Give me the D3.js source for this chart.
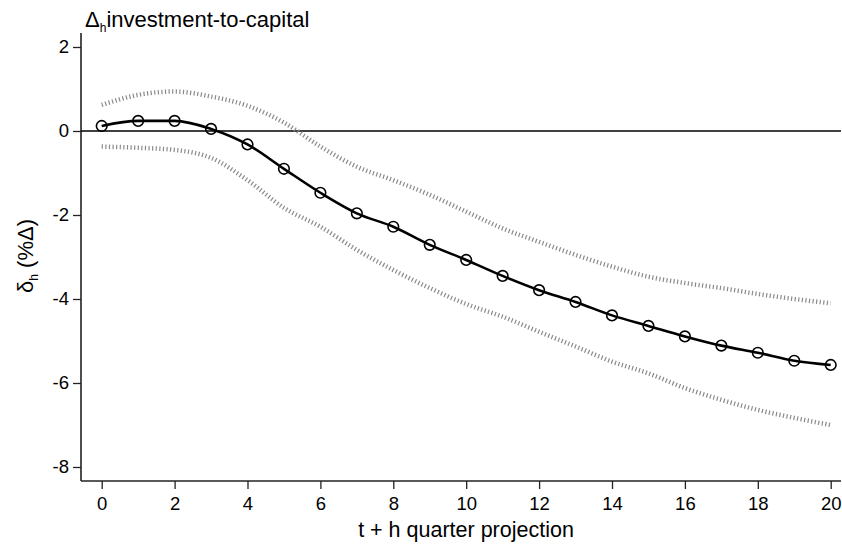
<!DOCTYPE html>
<html>
<head>
<meta charset="utf-8">
<script src="https://cdn.jsdelivr.net/npm/d3@7"></script>
<style>
    body { margin: 0; padding: 0; background: #fff; }
    svg { display: block; font-family: "Liberation Sans", Arial, sans-serif; }
</style>
</head>
<body>
<div id="main"></div>
<script>
// horizon h (quarters)
const horizons = d3.range(0, 21);
// point estimate of delta_h
const estimate = [0.12, 0.24, 0.24, 0.05, -0.32, -0.9, -1.47, -1.96, -2.28, -2.71, -3.07,
    -3.45, -3.79, -4.07, -4.39, -4.64, -4.89, -5.11, -5.28, -5.47, -5.57];
// confidence band
const upperBand = [0.62, 0.86, 0.94, 0.82, 0.6, 0.2, -0.37, -0.85, -1.17, -1.52, -1.92,
    -2.32, -2.64, -2.95, -3.23, -3.47, -3.62, -3.74, -3.88, -4.0, -4.1];
const lowerBand = [-0.37, -0.4, -0.45, -0.64, -1.17, -1.83, -2.28, -2.83, -3.31, -3.74, -4.12,
    -4.42, -4.78, -5.13, -5.49, -5.77, -6.12, -6.4, -6.64, -6.83, -7.0];
const xTicks = [0, 2, 4, 6, 8, 10, 12, 14, 16, 18, 20];
const yTicks = [2, 0, -2, -4, -6, -8];

const WIDTH = 842;
const HEIGHT = 548;
const PLOT = {left: 81, right: 841, top: 33, bottom: 481};

const scaleX = d3.scaleLinear().domain([0, 20]).range([101.7, 830.7]);
const scaleY = d3.scaleLinear().domain([0, -8]).range([131, 467]);

const svg = d3.select('#main').append('svg')
    .attr('width', WIDTH)
    .attr('height', HEIGHT);

// axes
const axisX = d3.axisBottom(scaleX).tickValues(xTicks).tickSize(8).tickPadding(8).tickSizeOuter(0);
const axisY = d3.axisLeft(scaleY).tickValues(yTicks).tickSize(8).tickPadding(4).tickSizeOuter(0);

const gx = svg.append('g')
    .attr('transform', `translate(0, ${PLOT.bottom})`)
    .call(axisX);
gx.select('.domain').attr('d', `M${PLOT.left},0H${PLOT.right}`);

const gy = svg.append('g')
    .attr('transform', `translate(${PLOT.left}, 0)`)
    .call(axisY);
gy.select('.domain').attr('d', `M0,${PLOT.top}V${PLOT.bottom}`);

[gx, gy].forEach((g) => {
    g.select('.domain').attr('stroke', '#222').attr('stroke-width', 1.6);
    g.selectAll('.tick line').attr('stroke', '#222').attr('stroke-width', 1.3);
    g.selectAll('.tick text')
        .attr('fill', '#000')
        .style('font-size', '18.5px')
        .style('font-family', '"Liberation Sans", Arial, sans-serif');
});
gy.selectAll('.tick text').text((d) => d < 0 ? '-' + Math.abs(d) : d);

// zero line
svg.append('line')
    .attr('x1', PLOT.left)
    .attr('x2', PLOT.right)
    .attr('y1', scaleY(0))
    .attr('y2', scaleY(0))
    .attr('stroke', '#000')
    .attr('stroke-width', 1.6);

const lineGen = (values) => d3.line()
    .x((d) => scaleX(d))
    .y((d, i) => scaleY(values[i]))
    .curve(d3.curveMonotoneX)(horizons);

// confidence bands
[upperBand, lowerBand].forEach((band) => {
    svg.append('path')
        .attr('d', lineGen(band))
        .attr('fill', 'none')
        .attr('stroke', '#8a8a8a')
        .attr('stroke-width', 4.5)
        .attr('stroke-dasharray', '1.2 2.4');
});

// estimate
svg.append('path')
    .attr('d', lineGen(estimate))
    .attr('fill', 'none')
    .attr('stroke', '#000')
    .attr('stroke-width', 2.6);

svg.selectAll('circle.pt')
    .data(horizons)
    .enter()
    .append('circle')
    .attr('class', 'pt')
    .attr('cx', (d) => scaleX(d))
    .attr('cy', (d, i) => scaleY(estimate[i]))
    .attr('r', 5.3)
    .attr('fill', 'none')
    .attr('stroke', '#000')
    .attr('stroke-width', 1.6);

// title
const title = svg.append('text')
    .attr('x', 85)
    .attr('y', 27)
    .style('font-size', '22px')
    .attr('fill', '#000');
title.append('tspan').text('Δ');
title.append('tspan').text('h').style('font-size', '12px').attr('dy', 5);
title.append('tspan').text('investment-to-capital').attr('dy', -5);

// x label
svg.append('text')
    .attr('x', 466)
    .attr('y', 537)
    .attr('text-anchor', 'middle')
    .style('font-size', '21.5px')
    .attr('fill', '#000')
    .text('t + h quarter projection');

// y label
const ylab = svg.append('text')
    .attr('transform', 'translate(33, 256) rotate(-90)')
    .attr('text-anchor', 'middle')
    .style('font-size', '22px')
    .attr('fill', '#000');
ylab.append('tspan').text('δ');
ylab.append('tspan').text('h').style('font-size', '12px').attr('dy', 5);
ylab.append('tspan').text(' (%Δ)').attr('dy', -5);
</script>
</body>
</html>
